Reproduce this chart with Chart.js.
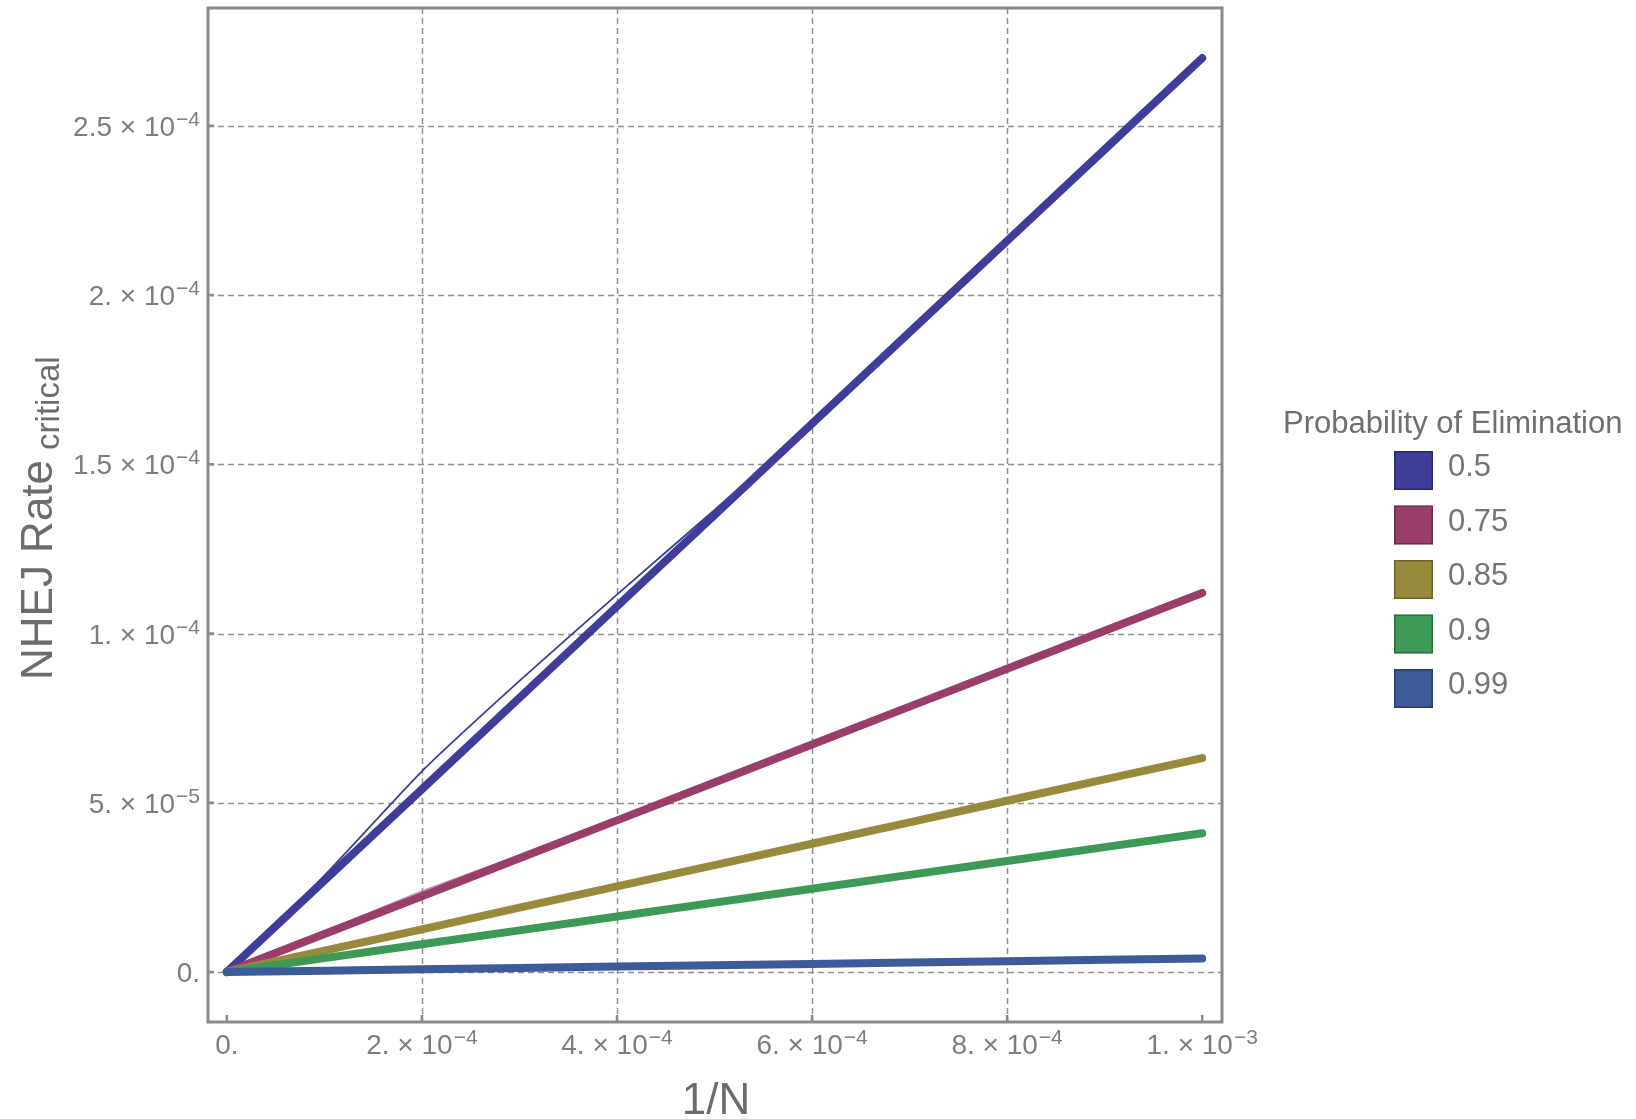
<!DOCTYPE html>
<html>
<head>
<meta charset="utf-8">
<script src="https://cdn.jsdelivr.net/npm/chart.js@4.4.1/dist/chart.umd.min.js"></script>
<style>
  html, body { margin: 0; padding: 0; background: #fff; }
  #wrap { width: 1636px; height: 1119px; }
</style>
</head>
<body>
<div id="wrap"><canvas id="nhej" width="1636" height="1119"></canvas></div>
<script>
// 1/N sample points
const invN = [0, 1e-4, 2e-4, 3e-4, 4e-4, 5e-4, 6e-4, 7e-4, 8e-4, 9e-4, 1e-3];

// critical NHEJ rate, one list per probability of elimination
const rate050 = [0, 2.7e-5, 5.4e-5, 8.1e-5, 1.08e-4, 1.35e-4, 1.62e-4, 1.89e-4, 2.16e-4, 2.43e-4, 2.70e-4];
const rate075 = [0, 1.12e-5, 2.24e-5, 3.36e-5, 4.48e-5, 5.6e-5, 6.72e-5, 7.84e-5, 8.96e-5, 1.008e-4, 1.12e-4];
const rate085 = [0, 6.3e-6, 1.26e-5, 1.9e-5, 2.53e-5, 3.16e-5, 3.79e-5, 4.42e-5, 5.06e-5, 5.69e-5, 6.32e-5];
const rate090 = [0, 4.1e-6, 8.2e-6, 1.23e-5, 1.64e-5, 2.05e-5, 2.46e-5, 2.87e-5, 3.28e-5, 3.69e-5, 4.1e-5];
const rate099 = [0, 4e-7, 8e-7, 1.2e-6, 1.6e-6, 2.0e-6, 2.4e-6, 2.8e-6, 3.2e-6, 3.6e-6, 4.0e-6];

// faint companion curves that only separate near the origin
const thinN050 = [0, 1e-4, 2e-4, 3e-4, 4e-4, 5e-4, 6e-4];
const thin050 = [0, 2.85e-5, 5.93e-5, 8.6e-5, 1.115e-4, 1.365e-4, 1.62e-4];
const thinN075 = [0, 1e-4, 2e-4, 3e-4, 4e-4];
const thin075 = [0, 1.2e-5, 2.39e-5, 3.45e-5, 4.5e-5];

const probLabels = ['0.5', '0.75', '0.85', '0.9', '0.99'];
const probColors = ['#3f3d99', '#993d6b', '#978a3d', '#3d9956', '#3c5b98'];

const xTicks = [0, 2e-4, 4e-4, 6e-4, 8e-4, 1e-3];
const xTickLabels = [['0.', ''], ['2. \u00d7 10', '\u22124'], ['4. \u00d7 10', '\u22124'], ['6. \u00d7 10', '\u22124'], ['8. \u00d7 10', '\u22124'], ['1. \u00d7 10', '\u22123']];
const yTicks = [0, 5e-5, 1e-4, 1.5e-4, 2e-4, 2.5e-4];
const yTickLabels = [['0.', ''], ['5. \u00d7 10', '\u22125'], ['1. \u00d7 10', '\u22124'], ['1.5 \u00d7 10', '\u22124'], ['2. \u00d7 10', '\u22124'], ['2.5 \u00d7 10', '\u22124']];

const FONT = '"Liberation Sans", Arial, sans-serif';

function pts(xs, ys) {
  return xs.map(function (x, i) { return { x: x, y: ys[i] }; });
}

const mainSeries = [rate050, rate075, rate085, rate090, rate099];
const datasets = mainSeries.map(function (ys, i) {
  return {
    label: probLabels[i],
    data: pts(invN, ys),
    borderColor: probColors[i],
    backgroundColor: probColors[i],
    borderWidth: 8,
    borderCapStyle: 'round',
    pointRadius: 0,
    tension: 0,
    order: mainSeries.length - 1 - i
  };
});
datasets.push({
  label: 'thin 0.5', thin: true,
  data: pts(thinN050, thin050),
  borderColor: probColors[0], borderWidth: 1.8, pointRadius: 0, tension: 0.2, order: 9
});
datasets.push({
  label: 'thin 0.75', thin: true,
  data: pts(thinN075, thin075),
  borderColor: 'rgba(190,120,160,0.9)', borderWidth: 1.2, pointRadius: 0, tension: 0.2, order: 9
});

function drawSup(ctx, base, exp, x, y, align) {
  ctx.font = '28px ' + FONT;
  const wb = ctx.measureText(base).width;
  ctx.font = '21px ' + FONT;
  const we = exp ? ctx.measureText(exp).width + 1 : 0;
  const total = wb + we;
  let x0 = x;
  if (align === 'right') x0 = x - total;
  if (align === 'center') x0 = x - total / 2;
  ctx.textAlign = 'left';
  ctx.font = '28px ' + FONT;
  ctx.fillText(base, x0, y);
  if (exp) {
    ctx.font = '21px ' + FONT;
    ctx.fillText(exp, x0 + wb + 1, y - 10);
  }
}

const framePlugin = {
  id: 'framePlugin',
  beforeDatasetsDraw(chart) {
    const ctx = chart.ctx, a = chart.chartArea;
    const xs = chart.scales.x, ys = chart.scales.y;
    ctx.save();
    ctx.strokeStyle = '#8f8f8f';
    ctx.lineWidth = 1.5;
    ctx.setLineDash([6, 4]);
    yTicks.forEach(function (v) {
      const py = Math.round(ys.getPixelForValue(v)) + 0.5;
      ctx.beginPath(); ctx.moveTo(a.left, py); ctx.lineTo(a.right, py); ctx.stroke();
    });
    xTicks.forEach(function (v) {
      if (v === 0 || v === 1e-3) return;
      const px = Math.round(xs.getPixelForValue(v)) + 0.5;
      ctx.beginPath(); ctx.moveTo(px, a.top); ctx.lineTo(px, a.bottom); ctx.stroke();
    });
    ctx.restore();
  },
  afterDatasetsDraw(chart) {
    const ctx = chart.ctx, a = chart.chartArea;
    const xs = chart.scales.x, ys = chart.scales.y;
    ctx.save();
    // frame
    ctx.strokeStyle = '#8a8a8a';
    ctx.lineWidth = 3;
    ctx.strokeRect(a.left, a.top, a.right - a.left, a.bottom - a.top);
    // tick marks
    ctx.lineWidth = 2.5;
    yTicks.forEach(function (v) {
      const py = ys.getPixelForValue(v);
      ctx.beginPath(); ctx.moveTo(a.left, py); ctx.lineTo(a.left + 6, py); ctx.stroke();
    });
    xTicks.forEach(function (v) {
      const px = xs.getPixelForValue(v);
      ctx.beginPath(); ctx.moveTo(px, a.bottom); ctx.lineTo(px, a.bottom - 7); ctx.stroke();
    });
    // tick labels
    ctx.fillStyle = '#7d7d7d';
    ctx.textBaseline = 'alphabetic';
    yTicks.forEach(function (v, i) {
      drawSup(ctx, yTickLabels[i][0], yTickLabels[i][1], a.left - 8, ys.getPixelForValue(v) + 10, 'right');
    });
    xTicks.forEach(function (v, i) {
      drawSup(ctx, xTickLabels[i][0], xTickLabels[i][1], xs.getPixelForValue(v), 1054, 'center');
    });
    // axis titles
    ctx.fillStyle = '#6c6c6c';
    ctx.font = '44px ' + FONT;
    ctx.textAlign = 'center';
    ctx.fillText('1/N', 716, 1114);
    ctx.save();
    ctx.translate(52, 680);
    ctx.rotate(-Math.PI / 2);
    ctx.textAlign = 'left';
    ctx.font = '44px ' + FONT;
    ctx.fillText('NHEJ Rate', 0, 0);
    const w = ctx.measureText('NHEJ Rate').width;
    ctx.font = '33px ' + FONT;
    ctx.fillText('critical', w + 10, 7);
    ctx.restore();
    // legend
    ctx.fillStyle = '#6f6f6f';
    ctx.font = '31px ' + FONT;
    ctx.textAlign = 'left';
    ctx.fillText('Probability of Elimination', 1283, 433);
    chart.data.datasets.filter(function (d) { return !d.thin; }).forEach(function (d, i) {
      const top = 451 + i * 54.5;
      ctx.fillStyle = d.borderColor;
      ctx.fillRect(1394, top, 39, 39);
      ctx.strokeStyle = 'rgba(0,0,0,0.3)';
      ctx.lineWidth = 1.5;
      ctx.strokeRect(1394.75, top + 0.75, 37.5, 37.5);
      ctx.fillStyle = '#757575';
      ctx.font = '31px ' + FONT;
      ctx.fillText(d.label, 1448, top + 25);
    });
    ctx.restore();
  }
};

new Chart(document.getElementById('nhej'), {
  type: 'line',
  data: { datasets: datasets },
  options: {
    responsive: false,
    animation: false,
    layout: { padding: { left: 208, top: 8, right: 414, bottom: 97 } },
    plugins: { legend: { display: false }, tooltip: { enabled: false } },
    scales: {
      x: { type: 'linear', display: false, min: -1.93e-5, max: 1.0203e-3 },
      y: { type: 'linear', display: false, min: -1.477e-5, max: 2.848e-4 }
    }
  },
  plugins: [framePlugin]
});
</script>
</body>
</html>
